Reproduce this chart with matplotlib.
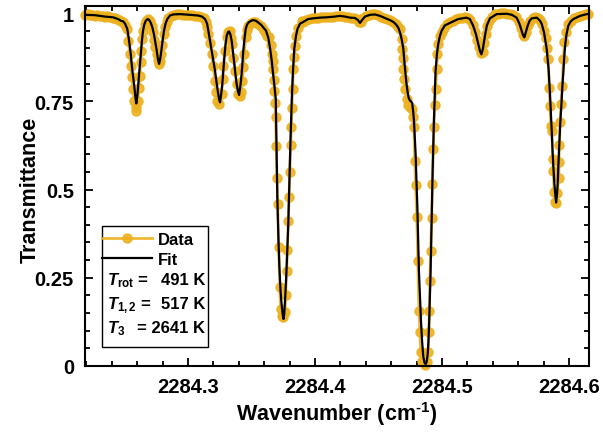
import matplotlib
matplotlib.use('Agg')
import matplotlib.pyplot as plt
from matplotlib.patches import Rectangle
from matplotlib.ticker import MultipleLocator

data_wn = [
    2284.2189, 2284.2209, 2284.2228, 2284.2248, 2284.2268, 2284.2287, 2284.2307, 2284.2327, 2284.2346, 2284.2366,
    2284.2386, 2284.2406, 2284.2425, 2284.2441, 2284.2457, 2284.2472, 2284.2488, 2284.2504, 2284.2517, 2284.2530,
    2284.2541, 2284.2549, 2284.2557, 2284.2567, 2284.2575, 2284.2588, 2284.2593, 2284.2606, 2284.2614, 2284.2620,
    2284.2628, 2284.2632, 2284.2640, 2284.2648, 2284.2659, 2284.2672, 2284.2685, 2284.2701, 2284.2713, 2284.2724,
    2284.2735, 2284.2744, 2284.2754, 2284.2762, 2284.2772, 2284.2781, 2284.2790, 2284.2799, 2284.2809, 2284.2819,
    2284.2831, 2284.2846, 2284.2866, 2284.2890, 2284.2913, 2284.2937, 2284.2961, 2284.2984, 2284.3008, 2284.3031,
    2284.3055, 2284.3079, 2284.3102, 2284.3122, 2284.3138, 2284.3150, 2284.3161, 2284.3173, 2284.3187, 2284.3199,
    2284.3213, 2284.3220, 2284.3231, 2284.3246, 2284.3265, 2284.3273, 2284.3278, 2284.3291, 2284.3305, 2284.3317,
    2284.3327, 2284.3336, 2284.3344, 2284.3357, 2284.3370, 2284.3383, 2284.3396, 2284.3406, 2284.3417, 2284.3428,
    2284.3435, 2284.3443, 2284.3454, 2284.3465, 2284.3475, 2284.3492, 2284.3512, 2284.3531, 2284.3551, 2284.3571,
    2284.3591, 2284.3606, 2284.3622, 2284.3640, 2284.3654, 2284.3662, 2284.3667, 2284.3671, 2284.3676, 2284.3680,
    2284.3685, 2284.3689, 2284.3694, 2284.3701, 2284.3706, 2284.3714, 2284.3722, 2284.3729, 2284.3739, 2284.3750,
    2284.3764, 2284.3769, 2284.3777, 2284.3782, 2284.3790, 2284.3795, 2284.3801, 2284.3809, 2284.3813, 2284.3819,
    2284.3823, 2284.3829, 2284.3836, 2284.3843, 2284.3850, 2284.3869, 2284.3895, 2284.3906, 2284.3929, 2284.3953,
    2284.3976, 2284.4000, 2284.4024, 2284.4047, 2284.4071, 2284.4094, 2284.4118, 2284.4142, 2284.4165, 2284.4189,
    2284.4213, 2284.4236, 2284.4260, 2284.4283, 2284.4307, 2284.4331, 2284.4346, 2284.4362, 2284.4378, 2284.4402,
    2284.4425, 2284.4449, 2284.4472, 2284.4496, 2284.4520, 2284.4543, 2284.4567, 2284.4590, 2284.4614, 2284.4634,
    2284.4654, 2284.4669, 2284.4682, 2284.4687, 2284.4691, 2284.4695, 2284.4703, 2284.4709, 2284.4722, 2284.4735,
    2284.4747, 2284.4761, 2284.4773, 2284.4779, 2284.4785, 2284.4792, 2284.4801, 2284.4809, 2284.4818, 2284.4826,
    2284.4832, 2284.4840, 2284.4852, 2284.4866, 2284.4879, 2284.4892, 2284.4896, 2284.4900, 2284.4904, 2284.4910,
    2284.4918, 2284.4924, 2284.4931, 2284.4936, 2284.4944, 2284.4949, 2284.4958, 2284.4963, 2284.4970, 2284.4983,
    2284.4997, 2284.5016, 2284.5039, 2284.5062, 2284.5087, 2284.5110, 2284.5134, 2284.5157, 2284.5181, 2284.5205,
    2284.5224, 2284.5244, 2284.5260, 2284.5276, 2284.5291, 2284.5307, 2284.5320, 2284.5331, 2284.5343, 2284.5353,
    2284.5370, 2284.5394, 2284.5417, 2284.5441, 2284.5465, 2284.5488, 2284.5512, 2284.5535, 2284.5559, 2284.5583,
    2284.5602, 2284.5618, 2284.5634, 2284.5648, 2284.5661, 2284.5677, 2284.5693, 2284.5713, 2284.5732, 2284.5752,
    2284.5772, 2284.5787, 2284.5803, 2284.5815, 2284.5827, 2284.5837, 2284.5843, 2284.5850, 2284.5856, 2284.5864,
    2284.5872, 2284.5876, 2284.5882, 2284.5890, 2284.5898, 2284.5908, 2284.5919, 2284.5921, 2284.5924, 2284.5929,
    2284.5937, 2284.5947, 2284.5955, 2284.5963, 2284.5974, 2284.5994, 2284.6016, 2284.6039, 2284.6063, 2284.6087,
    2284.6110, 2284.6134, 2284.6150,
]
data_t = [
    0.995, 0.996, 0.994, 0.995, 0.993, 0.994, 0.992, 0.993, 0.990, 0.991,
    0.988, 0.987, 0.985, 0.982, 0.979, 0.977, 0.975, 0.965, 0.955, 0.922,
    0.884, 0.850, 0.818, 0.785, 0.751, 0.733, 0.723, 0.751, 0.789, 0.822,
    0.860, 0.893, 0.926, 0.950, 0.969, 0.978, 0.982, 0.978, 0.962, 0.945,
    0.925, 0.905, 0.885, 0.868, 0.857, 0.865, 0.885, 0.910, 0.940, 0.960,
    0.975, 0.985, 0.992, 0.995, 0.996, 0.996, 0.995, 0.995, 0.994, 0.994,
    0.993, 0.992, 0.990, 0.985, 0.975, 0.960, 0.940, 0.915, 0.884, 0.850,
    0.808, 0.775, 0.751, 0.742, 0.771, 0.813, 0.850, 0.893, 0.931, 0.946,
    0.948, 0.930, 0.912, 0.874, 0.836, 0.799, 0.771, 0.765, 0.775, 0.808,
    0.846, 0.884, 0.931, 0.953, 0.962, 0.972, 0.976, 0.975, 0.970, 0.964,
    0.955, 0.945, 0.935, 0.931, 0.910, 0.885, 0.865, 0.841, 0.810, 0.780,
    0.745, 0.705, 0.624, 0.534, 0.459, 0.336, 0.223, 0.161, 0.142, 0.139,
    0.153, 0.201, 0.268, 0.329, 0.411, 0.478, 0.550, 0.625, 0.676, 0.730,
    0.785, 0.841, 0.875, 0.907, 0.936, 0.959, 0.978, 0.976, 0.980, 0.983,
    0.985, 0.986, 0.987, 0.988, 0.988, 0.989, 0.990, 0.990, 0.991, 0.992,
    0.991, 0.990, 0.988, 0.987, 0.987, 0.982, 0.975, 0.974, 0.985, 0.992,
    0.995, 0.996, 0.996, 0.994, 0.990, 0.987, 0.984, 0.980, 0.976, 0.970,
    0.960, 0.955, 0.926, 0.898, 0.874, 0.841, 0.813, 0.785, 0.756, 0.740,
    0.735, 0.728, 0.705, 0.676, 0.581, 0.514, 0.421, 0.298, 0.156, 0.095,
    0.039, 0.015, 0.010, 0.004, 0.010, 0.039, 0.095, 0.156, 0.240, 0.326,
    0.420, 0.516, 0.615, 0.676, 0.739, 0.785, 0.841, 0.884, 0.912, 0.935,
    0.945, 0.958, 0.968, 0.975, 0.978, 0.982, 0.985, 0.987, 0.988, 0.986,
    0.980, 0.965, 0.945, 0.925, 0.905, 0.888, 0.890, 0.915, 0.940, 0.962,
    0.978, 0.990, 0.996, 0.998, 0.999, 0.999, 0.998, 0.997, 0.995, 0.988,
    0.975, 0.958, 0.942, 0.934, 0.945, 0.965, 0.978, 0.985, 0.988, 0.986,
    0.979, 0.968, 0.950, 0.930, 0.900, 0.870, 0.789, 0.737, 0.680, 0.665,
    0.586, 0.553, 0.492, 0.466, 0.463, 0.490, 0.533, 0.577, 0.627, 0.690,
    0.742, 0.794, 0.870, 0.917, 0.945, 0.969, 0.978, 0.985, 0.990, 0.992,
    0.994, 0.996, 0.997,
]

# fitted spectrum (black line)
fit_wn = [
    2284.2189, 2284.2268, 2284.2346, 2284.2409, 2284.2449, 2284.2472, 2284.2488, 2284.2504, 2284.2522, 2284.2535,
    2284.2549, 2284.2561, 2284.2575, 2284.2585, 2284.2593, 2284.2601, 2284.2609, 2284.2618, 2284.2628, 2284.2638,
    2284.2646, 2284.2656, 2284.2667, 2284.2681, 2284.2693, 2284.2706, 2284.2719, 2284.2732, 2284.2744, 2284.2754,
    2284.2764, 2284.2772, 2284.2780, 2284.2790, 2284.2801, 2284.2811, 2284.2823, 2284.2837, 2284.2858, 2284.2882,
    2284.2937, 2284.3016, 2284.3079, 2284.3110, 2284.3134, 2284.3150, 2284.3160, 2284.3173, 2284.3187, 2284.3199,
    2284.3213, 2284.3223, 2284.3234, 2284.3244, 2284.3252, 2284.3261, 2284.3270, 2284.3278, 2284.3286, 2284.3295,
    2284.3305, 2284.3315, 2284.3323, 2284.3333, 2284.3344, 2284.3354, 2284.3365, 2284.3374, 2284.3383, 2284.3394,
    2284.3402, 2284.3409, 2284.3417, 2284.3427, 2284.3435, 2284.3445, 2284.3454, 2284.3465, 2284.3475, 2284.3496,
    2284.3514, 2284.3535, 2284.3553, 2284.3575, 2284.3593, 2284.3614, 2284.3632, 2284.3646, 2284.3659, 2284.3669,
    2284.3680, 2284.3691, 2284.3697, 2284.3703, 2284.3711, 2284.3719, 2284.3728, 2284.3738, 2284.3746, 2284.3752,
    2284.3758, 2284.3766, 2284.3774, 2284.3782, 2284.3790, 2284.3798, 2284.3806, 2284.3817, 2284.3827, 2284.3837,
    2284.3850, 2284.3862, 2284.3882, 2284.3908, 2284.3945, 2284.3984, 2284.4039, 2284.4094, 2284.4157, 2284.4196,
    2284.4236, 2284.4275, 2284.4315, 2284.4338, 2284.4354, 2284.4370, 2284.4393, 2284.4433, 2284.4472, 2284.4511,
    2284.4551, 2284.4590, 2284.4616, 2284.4637, 2284.4655, 2284.4669, 2284.4682, 2284.4695, 2284.4704, 2284.4712,
    2284.4720, 2284.4729, 2284.4737, 2284.4747, 2284.4755, 2284.4765, 2284.4773, 2284.4779, 2284.4785, 2284.4792,
    2284.4798, 2284.4805, 2284.4812, 2284.4818, 2284.4826, 2284.4834, 2284.4843, 2284.4852, 2284.4861, 2284.4871,
    2284.4879, 2284.4887, 2284.4893, 2284.4899, 2284.4905, 2284.4910, 2284.4918, 2284.4926, 2284.4936, 2284.4944,
    2284.4949, 2284.4960, 2284.4970, 2284.4983, 2284.4997, 2284.5022, 2284.5062, 2284.5127, 2284.5193, 2284.5219,
    2284.5245, 2284.5267, 2284.5285, 2284.5298, 2284.5310, 2284.5322, 2284.5338, 2284.5353, 2284.5377, 2284.5430,
    2284.5509, 2284.5550, 2284.5587, 2284.5609, 2284.5627, 2284.5637, 2284.5648, 2284.5659, 2284.5674, 2284.5689,
    2284.5706, 2284.5746, 2284.5772, 2284.5785, 2284.5803, 2284.5824, 2284.5839, 2284.5850, 2284.5858, 2284.5864,
    2284.5870, 2284.5876, 2284.5883, 2284.5890, 2284.5898, 2284.5906, 2284.5912, 2284.5919, 2284.5925, 2284.5931,
    2284.5939, 2284.5947, 2284.5955, 2284.5962, 2284.5969, 2284.5980, 2284.5994, 2284.6012, 2284.6034, 2284.6087,
    2284.6139, 2284.6157,
]
fit_t = [
    0.995, 0.994, 0.990, 0.988, 0.983, 0.978, 0.977, 0.970, 0.955, 0.925,
    0.884, 0.840, 0.799, 0.765, 0.744, 0.765, 0.799, 0.840, 0.884, 0.925,
    0.950, 0.968, 0.978, 0.983, 0.981, 0.973, 0.960, 0.940, 0.915, 0.893,
    0.868, 0.856, 0.868, 0.893, 0.925, 0.950, 0.970, 0.983, 0.993, 0.996,
    0.997, 0.995, 0.993, 0.990, 0.983, 0.970, 0.950, 0.922, 0.893, 0.865,
    0.836, 0.808, 0.780, 0.757, 0.747, 0.770, 0.799, 0.838, 0.874, 0.910,
    0.936, 0.946, 0.948, 0.940, 0.921, 0.890, 0.855, 0.825, 0.799, 0.777,
    0.768, 0.785, 0.808, 0.850, 0.893, 0.928, 0.955, 0.967, 0.973, 0.978,
    0.980, 0.978, 0.973, 0.967, 0.959, 0.950, 0.930, 0.900, 0.865, 0.830,
    0.795, 0.756, 0.620, 0.480, 0.370, 0.284, 0.215, 0.170, 0.145, 0.133,
    0.150, 0.200, 0.260, 0.330, 0.410, 0.520, 0.630, 0.756, 0.840, 0.900,
    0.935, 0.955, 0.970, 0.975, 0.983, 0.985, 0.987, 0.988, 0.990, 0.992,
    0.990, 0.987, 0.986, 0.980, 0.972, 0.980, 0.990, 0.995, 0.996, 0.992,
    0.986, 0.980, 0.975, 0.968, 0.959, 0.945, 0.926, 0.900, 0.860, 0.830,
    0.800, 0.776, 0.760, 0.752, 0.750, 0.745, 0.720, 0.695, 0.650, 0.600,
    0.530, 0.459, 0.360, 0.270, 0.195, 0.128, 0.070, 0.028, 0.010, 0.005,
    0.012, 0.034, 0.070, 0.128, 0.200, 0.270, 0.412, 0.553, 0.695, 0.780,
    0.836, 0.885, 0.912, 0.935, 0.950, 0.965, 0.972, 0.983, 0.987, 0.983,
    0.964, 0.940, 0.912, 0.893, 0.883, 0.900, 0.936, 0.965, 0.985, 0.997,
    0.998, 0.995, 0.987, 0.970, 0.950, 0.938, 0.931, 0.945, 0.964, 0.978,
    0.985, 0.987, 0.978, 0.969, 0.945, 0.898, 0.840, 0.770, 0.710, 0.662,
    0.610, 0.567, 0.525, 0.492, 0.463, 0.490, 0.530, 0.596, 0.640, 0.690,
    0.735, 0.790, 0.832, 0.875, 0.907, 0.940, 0.964, 0.976, 0.983, 0.992,
    0.997, 0.997,
]

x_ticks = [2284.3, 2284.4, 2284.5, 2284.6]
x_ticklabels = ['2284.3', '2284.4', '2284.5', '2284.6']
y_ticks = [0, 0.25, 0.5, 0.75, 1]
y_ticklabels = ['0', '0.25', '0.5', '0.75', '1']

temp_names = [r'$\mathit{T}_{\mathbf{rot}}$ =', r'$\mathit{T}_{\mathbf{1,2}}$ =', r'$\mathit{T}_{\mathbf{3}}$']
temp_values = ['491 K', '517 K', '= 2641 K']

DATA_COLOUR = '#EDB120'

plt.rcParams['font.family'] = ['Liberation Sans', 'DejaVu Sans']
plt.rcParams['font.weight'] = 'bold'
plt.rcParams['mathtext.fontset'] = 'custom'
plt.rcParams['mathtext.rm'] = 'Liberation Sans:bold'
plt.rcParams['mathtext.it'] = 'Liberation Sans:italic'
plt.rcParams['mathtext.bf'] = 'Liberation Sans:bold'

fig = plt.figure(figsize=(6.03, 4.35), dpi=100)
ax = fig.add_axes([85 / 603, 68 / 435, 504 / 603, 360 / 435])

ax.plot(data_wn, data_t, '-o', color=DATA_COLOUR, lw=2.0, ms=6.5, mec=DATA_COLOUR,
        alpha=0.9, clip_on=False, zorder=2, label='Data')
ax.plot(fit_wn, fit_t, color='black', lw=1.6, zorder=3, label='Fit')

ax.set_xlim(2284.2189, 2284.6157)
ax.set_ylim(0, 1.02)
ax.set_xticks(x_ticks)
ax.set_xticklabels(x_ticklabels)
ax.set_yticks(y_ticks)
ax.set_yticklabels(y_ticklabels)
ax.xaxis.set_minor_locator(MultipleLocator(0.02))
ax.yaxis.set_minor_locator(MultipleLocator(0.05))
ax.tick_params(which='both', direction='in', top=True, right=True, width=1.3, labelsize=14.5)
ax.tick_params(which='major', length=6, pad=8)
ax.tick_params(which='minor', length=3.5)
for s in ax.spines.values():
    s.set_linewidth(1.5)

fig.text(30 / 603, 1 - 190 / 435, 'Transmittance', rotation=90, ha='center', va='center',
         fontsize=15.5, fontweight='bold')
fig.text(337 / 603, 1 - 414 / 435, r'Wavenumber (cm$^{\text{-1}}$)', ha='center', va='center',
         fontsize=15.5, fontweight='bold')

# legend box: line entries from the legend, temperatures as text lines below
ax.add_patch(Rectangle((0.0337, 0.0528), 0.2103, 0.336, transform=ax.transAxes,
                       facecolor='white', edgecolor='black', lw=1.0, zorder=4))
leg = ax.legend(loc='upper left', bbox_to_anchor=(0.034, 0.373), frameon=False, fontsize=12,
                handlelength=3.0, handletextpad=0.35, labelspacing=0.3, borderpad=0,
                borderaxespad=0, numpoints=1)
leg.set_zorder(5)
for name, value, yb in zip(temp_names, temp_values, [0.228, 0.161, 0.094]):
    ax.text(0.044, yb, name, transform=ax.transAxes, fontsize=12, fontweight='bold',
            ha='left', va='baseline', zorder=6)
    ax.text(0.238, yb, value, transform=ax.transAxes, fontsize=12, fontweight='bold',
            ha='right', va='baseline', zorder=6)

fig.savefig('out.png', dpi=100)
